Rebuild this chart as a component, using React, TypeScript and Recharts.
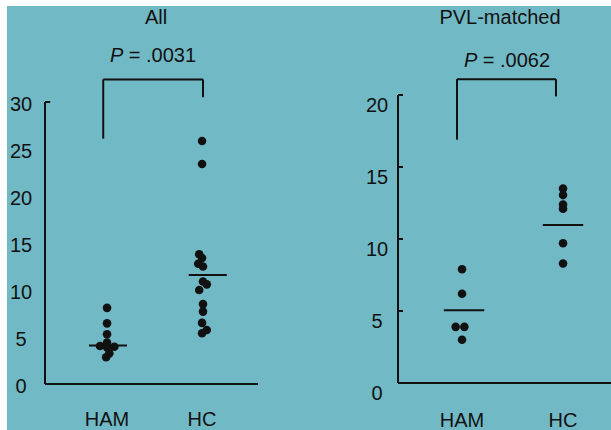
import React from 'react';
import { ScatterChart, Scatter, XAxis, YAxis, ReferenceLine } from 'recharts';

const categories = ['HAM', 'HC'];

// "All" panel
const allHamValues = [8.1, 6.45, 5.3, 4.4, 4.04, 3.9, 3.97, 3.26, 2.84];
const allHamOffsets = [0, 0, 0, 0, -0.074, 0, 0.077, 0.024, -0.01];
const allHcValues = [25.85, 23.4, 13.8, 13.4, 12.8, 12.5, 10.9, 10.6, 10.0, 8.5, 7.7, 6.5, 5.75, 5.4];
const allHcOffsets = [0, 0, -0.03, 0, -0.04, 0.01, 0.01, 0.05, -0.03, 0.01, 0.01, 0, 0.05, 0];
const allMedians = [4.1, 11.6];
const allTicks = [0, 5, 10, 15, 20, 25, 30];

// "PVL-matched" panel
const pvlHamValues = [7.9, 6.2, 3.9, 3.9, 3.0];
const pvlHamOffsets = [0, 0, -0.063, 0.023, 0];
const pvlHcValues = [13.5, 13.05, 12.4, 12.1, 9.7, 8.3];
const pvlHcOffsets = [0, 0, 0, 0, 0, 0];
const pvlMedians = [5.05, 10.97];
const pvlTicks = [0, 5, 10, 15, 20];

const INK = '#111';
const BG = '#72b9c6';
const FONT = '"Liberation Sans", Arial, sans-serif';

const toPoints = (values: number[], offsets: number[], group: number) =>
  values.map((v, i) => ({ x: group + 1 + offsets[i], y: v }));

const Dot = (p: any) => <circle cx={p.cx} cy={p.cy} r={4.3} fill={INK} />;

type PanelProps = {
  left: number;
  width: number;
  height: number;
  marginTop: number;
  marginRight: number;
  yAxisWidth: number;
  xAxisHeight: number;
  yMax: number;
  yTicks: number[];
  yTickMargin: number;
  yTickDy: number;
  showTickLines: boolean;
  xDomain: [number, number];
  xTickMargin: number;
  points: { x: number; y: number }[];
  medians: number[];
  medianShift: number[];
  bracketX: number[];
  bracketBottom: number[];
  bracketTop: number;
};

const Panel = (p: PanelProps) => {
  const line = { stroke: INK, strokeWidth: 2 };
  return (
    <div style={{ position: 'absolute', left: p.left, top: 0 }}>
      <ScatterChart
        width={p.width}
        height={p.height}
        margin={{ top: p.marginTop, right: p.marginRight, left: 0, bottom: 0 }}
      >
        <XAxis
          type="number"
          dataKey="x"
          domain={p.xDomain}
          allowDataOverflow
          ticks={[1, 2]}
          tickFormatter={(v: number) => categories[Math.round(v) - 1]}
          height={p.xAxisHeight}
          axisLine={line}
          tickLine={false}
          tickSize={0}
          tickMargin={p.xTickMargin}
          tick={{ fill: INK, fontSize: 20, fontFamily: FONT }}
        />
        <YAxis
          type="number"
          dataKey="y"
          domain={[0, p.yMax]}
          allowDataOverflow
          ticks={p.yTicks}
          width={p.yAxisWidth}
          axisLine={line}
          tickLine={p.showTickLines ? line : false}
          tickSize={-5}
          tickMargin={p.yTickMargin}
          tick={{ fill: INK, fontSize: 20, fontFamily: FONT, textAnchor: 'middle', dy: p.yTickDy }}
        />
        {!p.showTickLines && (
          <ReferenceLine
            segment={[
              { x: p.xDomain[0], y: p.yMax },
              { x: p.xDomain[0] + 0.055, y: p.yMax },
            ]}
            ifOverflow="visible"
            {...line}
          />
        )}
        <Scatter data={p.points} shape={Dot} isAnimationActive={false} />
        {p.medians.map((m, i) => (
          <ReferenceLine
            key={'m' + i}
            segment={[
              { x: i + 1 + p.medianShift[i] - 0.2, y: m },
              { x: i + 1 + p.medianShift[i] + 0.2, y: m },
            ]}
            ifOverflow="visible"
            {...line}
          />
        ))}
        {p.bracketX.map((bx, i) => (
          <ReferenceLine
            key={'b' + i}
            segment={[
              { x: bx, y: p.bracketBottom[i] },
              { x: bx, y: p.bracketTop },
            ]}
            ifOverflow="visible"
            {...line}
          />
        ))}
        <ReferenceLine
          segment={[
            { x: p.bracketX[0], y: p.bracketTop },
            { x: p.bracketX[1], y: p.bracketTop },
          ]}
          ifOverflow="visible"
          {...line}
        />
      </ScatterChart>
    </div>
  );
};

const Title = ({ x, y, children }: { x: number; y: number; children: React.ReactNode }) => (
  <div
    style={{
      position: 'absolute',
      left: x - 100,
      top: y,
      width: 200,
      textAlign: 'center',
      fontSize: 20,
      lineHeight: '20px',
      color: INK,
      fontFamily: FONT,
    }}
  >
    {children}
  </div>
);

export default function App() {
  return (
    <div
      style={{
        position: 'absolute',
        left: 7,
        top: 6,
        width: 604,
        height: 424,
        background: BG,
        overflow: 'hidden',
      }}
    >
      <Panel
        left={0}
        width={260}
        height={424}
        marginTop={96}
        marginRight={9}
        yAxisWidth={38}
        xAxisHeight={46}
        yMax={30}
        yTicks={allTicks}
        yTickMargin={29}
        yTickDy={2}
        showTickLines={false}
        xDomain={[0.347, 2.589]}
        xTickMargin={28}
        points={[...toPoints(allHamValues, allHamOffsets, 0), ...toPoints(allHcValues, allHcOffsets, 1)]}
        medians={allMedians}
        medianShift={[0.01, 0.06]}
        bracketX={[0.96, 2.01]}
        bracketBottom={[26.1, 30.5]}
        bracketTop={32.4}
      />
      <Panel
        left={333}
        width={280}
        height={424}
        marginTop={89}
        marginRight={0}
        yAxisWidth={58}
        xAxisHeight={47}
        yMax={20}
        yTicks={pvlTicks}
        yTickMargin={26}
        yTickDy={10}
        showTickLines={true}
        xDomain={[0.366, 2.564]}
        xTickMargin={30}
        points={[...toPoints(pvlHamValues, pvlHamOffsets, 0), ...toPoints(pvlHcValues, pvlHcOffsets, 1)]}
        medians={pvlMedians}
        medianShift={[0.02, 0]}
        bracketX={[0.95, 1.93]}
        bracketBottom={[16.9, 19.9]}
        bracketTop={21.1}
      />
      <Title x={156 - 7} y={7 - 6}>All</Title>
      <Title x={153 - 7} y={45 - 6}>
        <i>P</i> = .0031
      </Title>
      <Title x={500 - 7} y={7 - 6}>PVL-matched</Title>
      <Title x={507 - 7} y={50 - 6}>
        <i>P</i> = .0062
      </Title>
    </div>
  );
}
